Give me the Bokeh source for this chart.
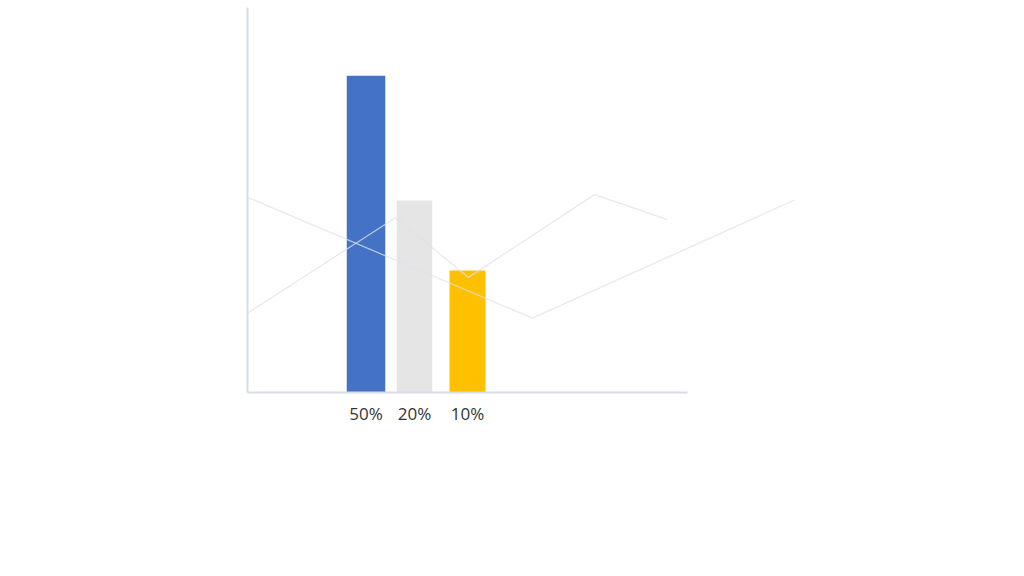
#Bar chart with three bars and two faint zig-zag lines in the background

from bokeh.plotting import figure
from bokeh.models import Range1d, FixedTicker
from bokeh.embed import file_html
from bokeh.resources import INLINE

#### DATA ####
bar_labels = ["50%", "20%", "10%"]
bar_x = [11.85, 16.7, 22.0]
bar_widths = [3.85, 3.55, 3.6]
bar_heights = [82.3, 49.9, 31.7]
bar_colors = ["#4472C4", "#E5E5E5", "#FFC000"]

#faint background lines
line_a_x = [0, 28.5, 54.7]
line_a_y = [50.7, 19.3, 50.0]
line_b_x = [0, 14.8, 22.1, 34.7, 42.0]
line_b_y = [20.6, 45.4, 29.9, 51.4, 44.9]

#x extent of the bottom axis line
axis_x_end = 44.0

#### PLOT ####
p = figure(width=1008, height=560, output_backend="svg", toolbar_location=None,
           x_range=Range1d(0, 56.1), y_range=Range1d(0, 100),
           min_border_left=247, min_border_right=200,
           min_border_top=7, min_border_bottom=168)

p.vbar(x=bar_x, width=bar_widths, top=bar_heights, bottom=0,
       color=bar_colors, line_color=None)

p.line(line_a_x, line_a_y, line_color="#dde2ee", line_alpha=0.75, line_width=1.3)
p.line(line_b_x, line_b_y, line_color="#dde2ee", line_alpha=0.75, line_width=1.3)

#styling
p.outline_line_color = None
p.grid.visible = False
p.background_fill_color = "white"
p.border_fill_color = "white"

#bottom axis: labels under the bars
p.xaxis.ticker = FixedTicker(ticks=bar_x)
p.xaxis.major_label_overrides = dict(zip(bar_x, bar_labels))
p.xaxis.bounds = (0, axis_x_end)
p.xaxis.axis_line_color = "#d6dce6"
p.xaxis.axis_line_width = 2
p.xaxis.major_tick_line_color = None
p.xaxis.minor_tick_line_color = None
p.xaxis.major_tick_out = 0
p.xaxis.major_tick_in = 0
p.xaxis.major_label_standoff = 9
p.xaxis.major_label_text_font = "Open Sans"
p.xaxis.major_label_text_font_size = "17px"
p.xaxis.major_label_text_color = "#333333"

#left axis: only the line
p.yaxis.ticker = FixedTicker(ticks=[])
p.yaxis.axis_line_color = "#d6dce6"
p.yaxis.axis_line_width = 2
p.yaxis.major_tick_line_color = None
p.yaxis.minor_tick_line_color = None
p.yaxis.major_tick_out = 0
p.yaxis.major_tick_in = 0

open("out.html", "w").write(file_html(p, INLINE))
